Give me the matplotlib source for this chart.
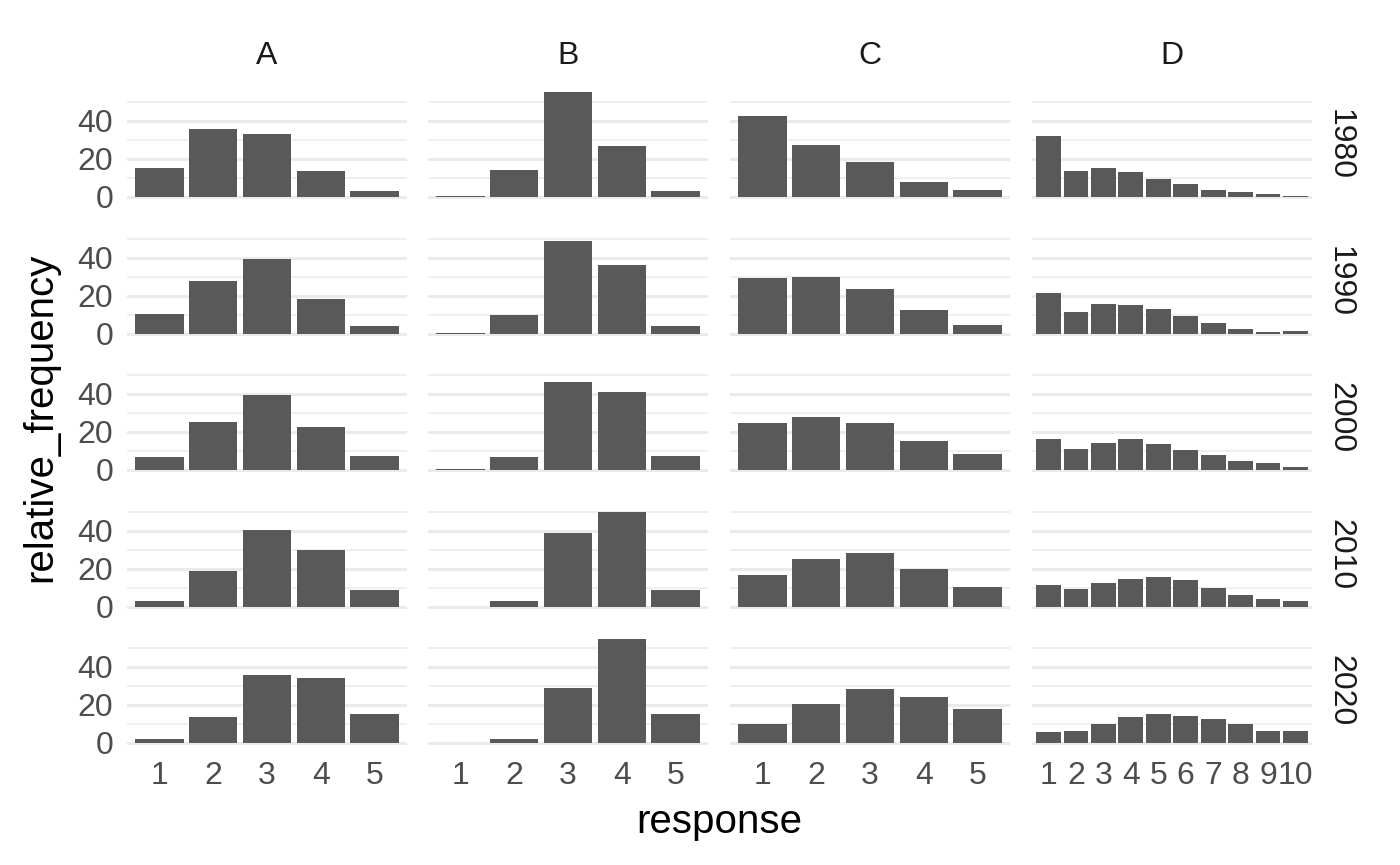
import matplotlib.pyplot as plt

plt.rcParams["font.family"] = ["Liberation Sans", "DejaVu Sans"]

# relative frequency (%) per response, by group (column) and year (row)
groups = ["A", "B", "C", "D"]
years = ["1980", "1990", "2000", "2010", "2020"]

responses_5 = [1, 2, 3, 4, 5]
responses_10 = [1, 2, 3, 4, 5, 6, 7, 8, 9, 10]

freq_a = [
    [14.9, 35.6, 32.9, 13.3, 2.8],
    [10.4, 27.7, 39.3, 18.3, 4.1],
    [6.7, 25.2, 39.4, 22.4, 7.0],
    [3.2, 18.7, 40.4, 29.7, 8.6],
    [1.8, 13.6, 35.9, 34.1, 15.4],
]
freq_b = [
    [0.5, 14.3, 55.0, 26.7, 2.8],
    [0.4, 9.9, 48.9, 36.4, 4.1],
    [0.3, 6.7, 46.0, 40.7, 7.0],
    [0.0, 3.2, 38.6, 50.0, 8.6],
    [0.0, 1.8, 28.8, 54.4, 15.4],
]
freq_c = [
    [42.5, 27.4, 18.1, 7.8, 3.7],
    [29.5, 30.0, 23.7, 12.4, 4.6],
    [24.6, 28.0, 24.5, 15.3, 8.1],
    [16.6, 25.3, 28.3, 20.0, 10.3],
    [10.1, 20.5, 28.4, 24.0, 17.7],
]
freq_d = [
    [31.9, 13.8, 15.2, 13.1, 9.4, 6.9, 3.7, 2.7, 1.4, 0.5],
    [21.4, 11.3, 15.5, 15.0, 13.2, 9.5, 5.7, 2.3, 1.1, 1.2],
    [16.0, 11.0, 14.3, 16.0, 13.7, 10.5, 7.8, 4.8, 3.4, 1.6],
    [11.5, 9.6, 12.7, 14.5, 15.8, 14.0, 10.1, 6.2, 3.9, 2.8],
    [5.5, 6.2, 10.1, 13.8, 15.4, 14.2, 12.6, 9.7, 6.2, 6.4],
]

data = {"A": (responses_5, freq_a), "B": (responses_5, freq_b),
        "C": (responses_5, freq_c), "D": (responses_10, freq_d)}

W, H = 1400, 865
fig = plt.figure(figsize=(W / 100, H / 100), dpi=100)

col_left = [127, 428, 730, 1032]
panel_w = 280
row_top = [87, 224, 360, 497, 633]
panel_h = 115

bar_color = "#595959"
grid_color = "#EBEBEB"
text_grey = "#4D4D4D"
tick_size = 23
title_size = 29
ymax = 55.0
ylim = (-0.05 * ymax, 1.05 * ymax)

for ci, g in enumerate(groups):
    xs, rows = data[g]
    for ri, yr in enumerate(years):
        left = col_left[ci] / W
        bottom = 1 - (row_top[ri] + panel_h) / H
        ax = fig.add_axes([left, bottom, panel_w / W, panel_h / H])
        ax.bar(xs, rows[ri], width=0.9, color=bar_color, zorder=2)
        ax.set_xlim(0.4, len(xs) + 0.6)
        ax.set_ylim(*ylim)
        for v in (0, 20, 40):
            ax.axhline(v, color=grid_color, lw=2.2, zorder=1)
        for v in (10, 30, 50):
            ax.axhline(v, color=grid_color, lw=1.1, zorder=1)
        for s in ax.spines.values():
            s.set_visible(False)
        ax.set_xticks(xs)
        ax.set_yticks([0, 20, 40])
        ax.tick_params(length=0, labelsize=tick_size, labelcolor=text_grey)
        ax.tick_params(axis="y", pad=10)
        ax.tick_params(axis="x", pad=9)
        if ci == 0:
            ax.set_yticklabels(["0", "20", "40"])
        else:
            ax.set_yticklabels([])
        if ri == len(years) - 1:
            ax.set_xticklabels([str(x) for x in xs])
        else:
            ax.set_xticklabels([])
        if ri == 0:
            fig.text((col_left[ci] + panel_w / 2) / W, 1 - 56 / H, g,
                     ha="center", va="center", fontsize=tick_size, color="#1A1A1A")
        if ci == len(groups) - 1:
            fig.text(1340 / W, 1 - (row_top[ri] + panel_h / 2) / H, yr,
                     ha="center", va="center", rotation=270,
                     fontsize=tick_size, color="#1A1A1A")

fig.text((col_left[0] + col_left[-1] + panel_w) / 2 / W, 1 - 822 / H, "response",
         ha="center", va="center", fontsize=title_size, color="black")
fig.text(40 / W, 1 - (row_top[0] + row_top[-1] + panel_h) / 2 / H,
         "relative_frequency", ha="center", va="center", rotation=90,
         fontsize=title_size, color="black")

fig.savefig("out.png", dpi=100)
